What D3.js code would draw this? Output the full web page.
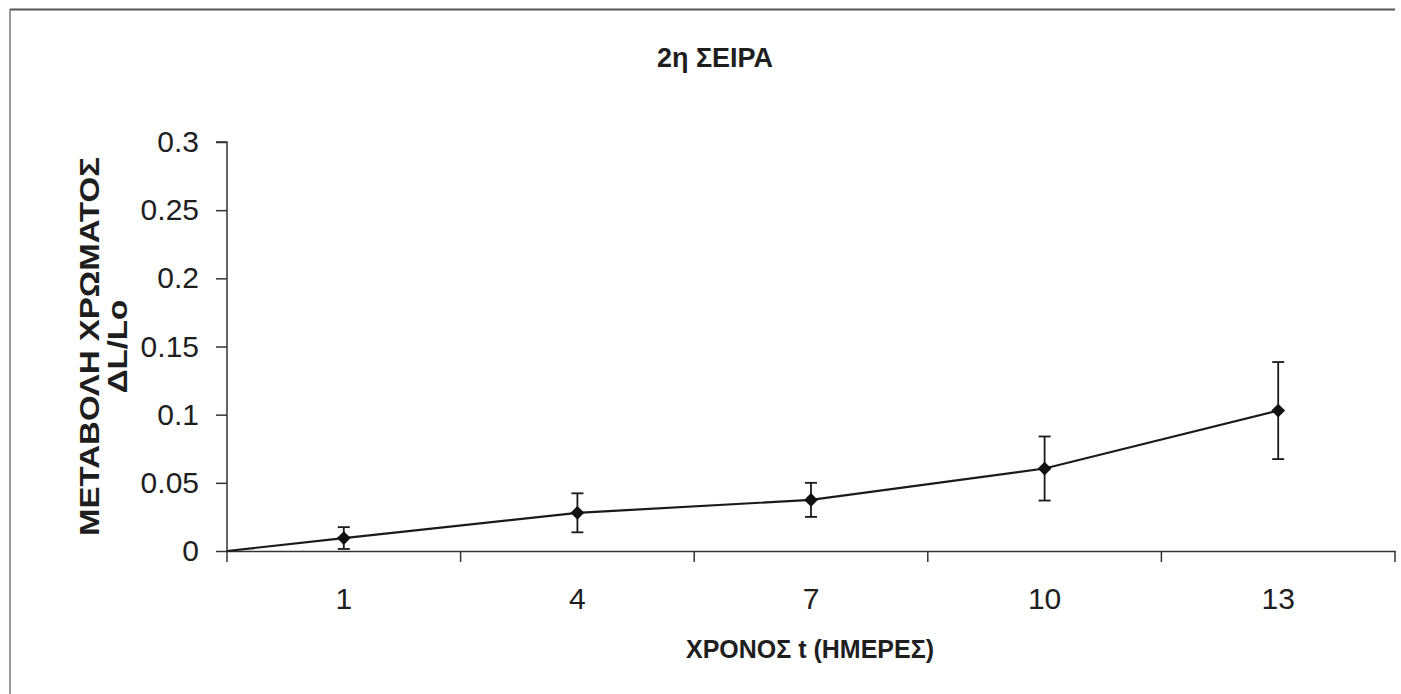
<!DOCTYPE html>
<html>
<head>
<meta charset="utf-8">
<script src="https://cdn.jsdelivr.net/npm/d3@7"></script>
<style>
  body { margin: 0; background: #fff; }
  text { font-family: "Liberation Sans", Arial, sans-serif; fill: #1e1e1e; }
</style>
</head>
<body>
<div id="app"></div>
<script>
const d3 = window.d3;

// data
const days = ["1", "4", "7", "10", "13"];
const meanValues = [0.0095, 0.028, 0.0375, 0.0605, 0.103];
const errValues = [0.008, 0.0143, 0.0125, 0.0235, 0.0356];
const yTicks = [0, 0.05, 0.1, 0.15, 0.2, 0.25, 0.3];

const screen = { width: 1401, height: 694 };
const plot = { left: 227, right: 1395, top: 142, bottom: 551 };

const scales = {
  x: d3.scaleBand().domain(days).range([plot.left, plot.right]),
  y: d3.scaleLinear().domain([0, 0.3]).range([plot.bottom, plot.top]),
};

const svg = d3
  .create("svg")
  .attr("width", screen.width)
  .attr("height", screen.height);

svg.append("rect")
  .attr("width", screen.width)
  .attr("height", screen.height)
  .attr("fill", "#fff");

// frame of the scanned chart area
svg.append("line")
  .attr("x1", 10).attr("x2", 1395)
  .attr("y1", 9.5).attr("y2", 9.5)
  .attr("stroke", "#555").attr("stroke-width", 2);
svg.append("line")
  .attr("x1", 10).attr("x2", 10)
  .attr("y1", 9).attr("y2", 694)
  .attr("stroke", "#777").attr("stroke-width", 1.5);

// title
svg.append("text")
  .attr("x", 715).attr("y", 67)
  .attr("text-anchor", "middle")
  .style("font-size", "27px")
  .style("font-weight", "bold")
  .text("2η ΣΕΙΡΑ");

// y axis
const yAxis = d3.axisLeft(scales.y)
  .tickValues(yTicks)
  .tickSize(11)
  .tickPadding(17)
  .tickFormat(d3.format("~g"));

const gy = svg.append("g")
  .attr("transform", `translate(${plot.left},0)`)
  .call(yAxis);
gy.select(".domain").attr("stroke", "#333").attr("stroke-width", 1.5).attr("d", `M-11,${plot.top}H0V${plot.bottom}`);
gy.selectAll(".tick line").attr("stroke", "#333").attr("stroke-width", 1.5);
gy.selectAll(".tick text")
  .style("font-size", "30px")
  .style("font-family", "'Liberation Sans', Arial, sans-serif")
  .attr("fill", "#222");

// x axis with ticks on band edges
const xAxis = d3.axisBottom(scales.x).tickSize(0).tickPadding(37);
const gx = svg.append("g")
  .attr("transform", `translate(0,${plot.bottom})`)
  .call(xAxis);
gx.select(".domain").attr("stroke", "#333").attr("stroke-width", 1.5);
gx.selectAll(".tick text")
  .style("font-size", "30px")
  .style("font-family", "'Liberation Sans', Arial, sans-serif")
  .attr("fill", "#222");

const edges = days.map((d) => scales.x(d)).concat([scales.x.range()[1]]);
gx.selectAll("line.edge")
  .data(edges)
  .enter()
  .append("line")
  .attr("class", "edge")
  .attr("x1", (d) => d).attr("x2", (d) => d)
  .attr("y1", 0).attr("y2", 11)
  .attr("stroke", "#333").attr("stroke-width", 1.5);

// axis titles
const yTitle = svg.append("text")
  .attr("transform", `translate(0,${(plot.top + plot.bottom) / 2}) rotate(-90) scale(1.18,1)`)
  .attr("text-anchor", "middle")
  .style("font-size", "28px")
  .style("font-weight", "bold");
yTitle.append("tspan").attr("x", 0).attr("y", 99).text("ΜΕΤΑΒΟΛΗ ΧΡΩΜΑΤΟΣ");
yTitle.append("tspan").attr("x", 0).attr("y", 127).text("ΔL/Lo");

svg.append("text")
  .attr("x", 810).attr("y", 658)
  .attr("text-anchor", "middle")
  .style("font-size", "25px")
  .style("font-weight", "bold")
  .text("ΧΡΟΝΟΣ t (ΗΜΕΡΕΣ)");

// series
const points = days.map((d, i) => ({
  x: scales.x(d) + scales.x.bandwidth() / 2,
  v: meanValues[i],
  e: errValues[i],
}));
const linePoints = [{ x: scales.x.range()[0], v: 0 }].concat(points);

const line = d3.line().x((d) => d.x).y((d) => scales.y(d.v));

svg.append("path")
  .datum(linePoints)
  .attr("d", line)
  .attr("fill", "none")
  .attr("stroke", "#1a1a1a")
  .attr("stroke-width", 2.2);

const bars = svg.append("g").attr("stroke", "#1a1a1a").attr("stroke-width", 1.8);
bars.selectAll("line.err")
  .data(points)
  .enter()
  .append("line")
  .attr("x1", (d) => d.x).attr("x2", (d) => d.x)
  .attr("y1", (d) => scales.y(d.v + d.e))
  .attr("y2", (d) => scales.y(d.v - d.e));
["top", "bottom"].forEach((side) => {
  bars.selectAll(`line.cap-${side}`)
    .data(points)
    .enter()
    .append("line")
    .attr("x1", (d) => d.x - 6).attr("x2", (d) => d.x + 6)
    .attr("y1", (d) => scales.y(side === "top" ? d.v + d.e : d.v - d.e))
    .attr("y2", (d) => scales.y(side === "top" ? d.v + d.e : d.v - d.e));
});

svg.append("g")
  .selectAll("path")
  .data(points)
  .enter()
  .append("path")
  .attr("d", d3.symbol(d3.symbolDiamond2, 120))
  .attr("transform", (d) => `translate(${d.x},${scales.y(d.v)})`)
  .attr("fill", "#111");

document.getElementById("app").append(svg.node());
</script>
</body>
</html>
